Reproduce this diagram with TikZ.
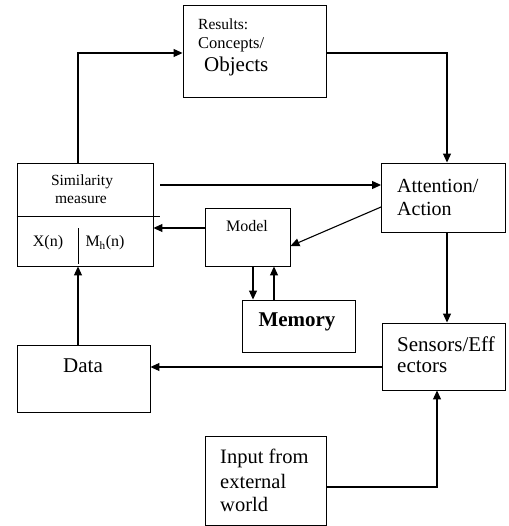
\documentclass[tikz,border=0pt]{standalone}
\usepackage{fontspec}
\setmainfont{Liberation Serif}
\usetikzlibrary{arrows.meta}
\begin{document}
\begin{tikzpicture}[x=1pt,y=-1pt,
  box/.style={draw,line width=0.9pt,inner sep=0pt},
  arr/.style={line width=1.1pt,-{Triangle[length=9pt,width=8pt]}},
  txt/.style={inner sep=0pt,anchor=west}]
\useasboundingbox[fill=white] (0,0) rectangle (508,526);
% boxes
\node[box,minimum width=143pt,minimum height=92pt] (res) at (254.5,51) {};
\node[box,minimum width=136pt,minimum height=103pt] (sim) at (85,214.5) {};
\node[box,minimum width=85pt,minimum height=58pt] (mod) at (247.5,237) {};
\node[box,minimum width=113pt,minimum height=52pt] (mem) at (298.5,326) {};
\node[box,minimum width=124pt,minimum height=69pt] (att) at (443.5,197.5) {};
\node[box,minimum width=123pt,minimum height=67pt] (sen) at (443.5,356.5) {};
\node[box,minimum width=133pt,minimum height=67pt] (dat) at (83.5,378.5) {};
\node[box,minimum width=121pt,minimum height=89pt] (inp) at (265.5,480.5) {};
% texts
\node[txt,font=\fontsize{15.5}{17}\selectfont] (t1) at (198,24) {Results:};
\node[txt,font=\fontsize{16.5}{18}\selectfont] (t2) at (198,45) {Concepts/};
\node[txt,font=\fontsize{21}{23}\selectfont] (t3) at (204,66) {Objects};
\node[inner sep=0pt,font=\fontsize{15.5}{17}\selectfont] (t4) at (82,182) {Similarity};
\node[inner sep=0pt,font=\fontsize{15.5}{17}\selectfont] (t5) at (81,200) {measure};
\draw[line width=0.9pt] (sim.west |- 0,216) coordinate (d1) -- (160,216) coordinate (d2);
\draw[line width=0.9pt] (78.5,228) coordinate (v1) -- (78.5,264) coordinate (v2);
\node[inner sep=0pt,font=\fontsize{16}{18}\selectfont] (t6) at (48,243) {X(n)};
\node[inner sep=0pt,font=\fontsize{16}{18}\selectfont] (t7) at (105,243) {M\textsubscript{h}(n)};
\node[inner sep=0pt,font=\fontsize{16}{18}\selectfont] (t8) at (247,226) {Model};
\node[inner sep=0pt,font=\bfseries\fontsize{21}{23}\selectfont] (t9) at (297,322) {Memory};
\node[txt,font=\fontsize{20}{22}\selectfont] (t10) at (397,186) {Attention/};
\node[txt,font=\fontsize{20}{22}\selectfont] (t11) at (397,209) {Action};
\node[txt,font=\fontsize{21}{23}\selectfont] (t12) at (397,344) {Sensors/Eff};
\node[txt,font=\fontsize{21}{23}\selectfont] (t13) at (397,367) {ectors};
\node[inner sep=0pt,font=\fontsize{21}{23}\selectfont] (t14) at (83,366) {Data};
\node[txt,font=\fontsize{20.5}{22}\selectfont] (t15) at (220,458) {Input from};
\node[txt,font=\fontsize{20.5}{22}\selectfont] (t16) at (220,481) {external};
\node[txt,font=\fontsize{20.5}{22}\selectfont] (t17) at (220,504) {world};
% connectors
\draw[arr] (sim.north -| 78,0) |- (res.west |- 0,53);
\draw[arr] (res.east |- 0,53) -| (att.north -| 447,0);
\coordinate (s1) at (160,185);
\draw[arr] (s1) -- (att.west |- 0,185);
\draw[arr] (att.west |- 0,207) -- (mod.east |- 0,246);
\draw[arr] (mod.west |- 0,228) -- (sim.east |- 0,228);
\draw[arr] (mod.south -| 253,0) -- (mem.north -| 253,0);
\draw[arr] (mem.north -| 274,0) -- (mod.south -| 274,0);
\draw[arr] (att.south -| 447,0) -- (sen.north -| 447,0);
\draw[arr] (sen.west |- 0,367) -- (dat.east |- 0,367);
\draw[arr] (inp.east |- 0,487) -| (sen.south -| 437,0);
\draw[arr] (dat.north -| 78,0) -- (sim.south -| 78,0);
\end{tikzpicture}
\end{document}
